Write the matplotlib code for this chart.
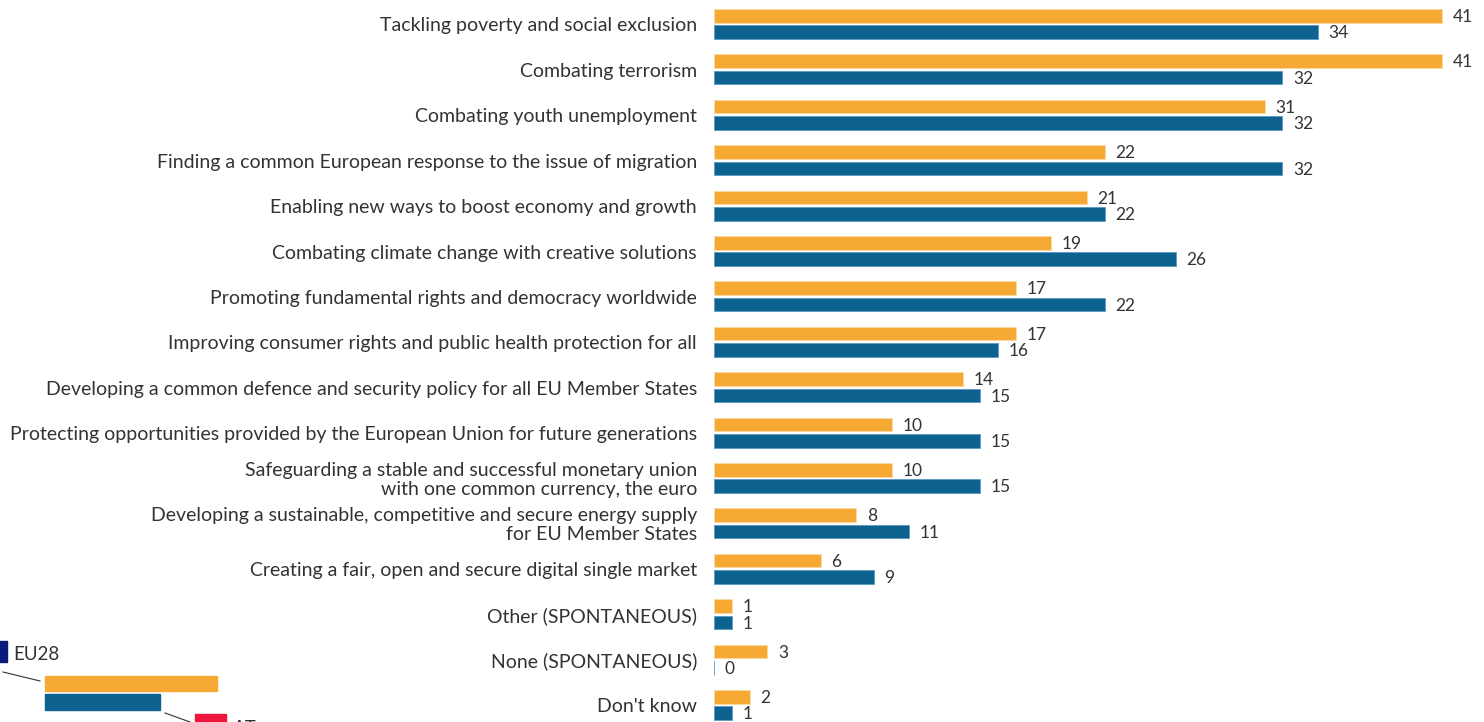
import matplotlib
matplotlib.use('Agg')
import matplotlib.pyplot as plt
from matplotlib.patches import Rectangle
from matplotlib.lines import Line2D

plt.rcParams['font.family'] = ['Lato', 'DejaVu Sans']

categories = [
    'Tackling poverty and social exclusion',
    'Combating terrorism',
    'Combating youth unemployment',
    'Finding a common European response to the issue of migration',
    'Enabling new ways to boost economy and growth',
    'Combating climate change with creative solutions',
    'Promoting fundamental rights and democracy worldwide',
    'Improving consumer rights and public health protection for all',
    'Developing a common defence and security policy for all EU Member States',
    'Protecting opportunities provided by the European Union for future generations',
    'Safeguarding a stable and successful monetary union\nwith one common currency, the euro',
    'Developing a sustainable, competitive and secure energy supply\nfor EU Member States',
    'Creating a fair, open and secure digital single market',
    'Other (SPONTANEOUS)',
    'None (SPONTANEOUS)',
    "Don't know",
]
eu28 = [41, 41, 31, 22, 21, 19, 17, 17, 14, 10, 10, 8, 6, 1, 3, 2]
at = [34, 32, 32, 32, 22, 26, 22, 16, 15, 15, 15, 11, 9, 1, 0, 1]

ORANGE = '#f6aa35'
BLUE = '#0e6290'
TEXT = '#333333'

W, H = 1484, 722
fig = plt.figure(figsize=(W / 100, H / 100), dpi=100)
ax = fig.add_axes([714 / W, 0, 1 - 714 / W, 1])

step = 45.4
top = 24.0
ax.set_ylim((H - top) / step, -top / step)
ax.set_xlim(0, (W - 714) / 17.76)
off = 8.2 / step
bh = 13.5 / step
lab_dy = 2.0 / step
val_dy = 1.2 / step

for i, (e, a) in enumerate(zip(eu28, at)):
    ax.barh(i - off, e, height=bh, color=ORANGE, edgecolor='#fbd9a4', linewidth=0.6)
    ax.barh(i + off, a, height=bh, color=BLUE, edgecolor='#5b9ac0', linewidth=0.6)
    ax.text(e + 0.6, i - off + val_dy, str(e), va='center', ha='left', fontsize=12.5, color=TEXT)
    ax.text(a + 0.6, i + off + val_dy, str(a), va='center', ha='left', fontsize=12.5, color=TEXT)
    ax.text(-17 / 17.76, i + lab_dy, categories[i], va='center', ha='right', fontsize=14,
            color=TEXT, linespacing=1.15, clip_on=False)

ax.axis('off')

# legend in the bottom-left corner
def px(x, y):
    return x / W, 1 - y / H

fig.add_artist(Rectangle(px(-3, 662), 10 / W, 21 / H, color='#0a1a7a', transform=fig.transFigure))
fig.text(*px(13, 655), 'EU28', fontsize=13.5, color=TEXT, va='center', ha='left')
fig.add_artist(Line2D([3 / W, 40 / W], [1 - 672 / H, 1 - 681 / H], color=TEXT, lw=0.8))
fig.add_artist(Rectangle(px(45, 691), 172 / W, 15 / H, color=ORANGE, transform=fig.transFigure))
fig.add_artist(Rectangle(px(45, 710), 115 / W, 16 / H, color=BLUE, transform=fig.transFigure))
fig.add_artist(Line2D([165 / W, 190 / W], [1 - 713 / H, 1 - 722 / H], color=TEXT, lw=0.8))
fig.add_artist(Rectangle(px(195, 725), 31 / W, 11 / H, color='#f0173c', transform=fig.transFigure))
fig.text(*px(233, 728), 'AT', fontsize=13.5, color=TEXT, va='center', ha='left')

fig.savefig('out.png', dpi=100)
